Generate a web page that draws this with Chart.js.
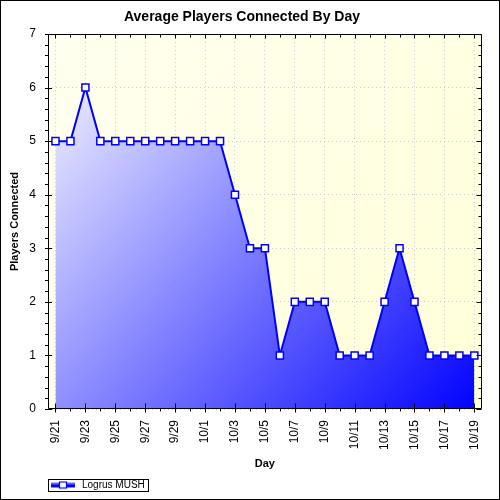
<!DOCTYPE html>
<html><head><meta charset="utf-8">
<script src="https://cdn.jsdelivr.net/npm/chart.js@4/dist/chart.umd.min.js"></script>
<style>html,body{margin:0;padding:0;background:#fff}</style>
</head><body>
<canvas id="c" width="500" height="500"></canvas>
<script>
const chartTitle = 'Average Players Connected By Day';
const xTitle = 'Day';
const yTitle = 'Players Connected';
const seriesName = 'Logrus MUSH';
const days = ['9/21','9/22','9/23','9/24','9/25','9/26','9/27','9/28','9/29','9/30',
  '10/1','10/2','10/3','10/4','10/5','10/6','10/7','10/8','10/9','10/10',
  '10/11','10/12','10/13','10/14','10/15','10/16','10/17','10/18','10/19'];
const players = [5,5,6,5,5,5,5,5,5,5,5,5,4,3,3,1,2,2,2,1,1,1,2,3,2,1,1,1,1];
const yTicks = [0,1,2,3,4,5,6,7];

// legend sample image (line with square marker)
const sample = document.createElement('canvas');
sample.width = 26; sample.height = 9;
(function(){
  const c = sample.getContext('2d');
  const g = c.createLinearGradient(0,2,0,7);
  g.addColorStop(0,'#8080ff'); g.addColorStop(1,'#0000ff');
  c.fillStyle = g; c.fillRect(1,2,24,5);
  c.fillStyle = '#0000ff'; c.fillRect(1,4,24,2);
  c.fillStyle = '#fff'; c.fillRect(9.5,1.5,7,6);
  c.strokeStyle = '#0000ff'; c.lineWidth = 1.2; c.strokeRect(9.5,1.5,7,6);
})();

const frame = {
  id: 'frame',
  afterLayout(chart) {
    const lg = chart.legend;
    if (lg) { lg.left += 44; lg.right += 44; }
  },
  beforeDraw(chart) {
    const {ctx, chartArea: a} = chart;
    ctx.save();
    const g = ctx.createLinearGradient(a.left, a.top, a.right, a.bottom);
    g.addColorStop(0, '#FFFFF0'); g.addColorStop(1, '#FFFFD8');
    ctx.fillStyle = g;
    ctx.fillRect(a.left, a.top, a.right - a.left, a.bottom - a.top);
    ctx.restore();
  },
  afterDatasetsDraw(chart) {
    const {ctx, chartArea: a, scales} = chart;
    const xs = scales.x, ys = scales.y;
    ctx.save();
    ctx.strokeStyle = '#000'; ctx.lineWidth = 1;
    ctx.beginPath();
    const L = Math.round(a.left) + 0.5, R = Math.round(a.right) - 0.5;
    const T = Math.round(a.top) + 0.5, B = Math.round(a.bottom) - 0.5;
    ctx.rect(L, T, R - L, B - T);
    for (let i = 0; i <= 35; i++) {
      const y = Math.round(ys.getPixelForValue(i / 5)) + 0.5;
      const major = i % 5 === 0;
      ctx.moveTo(L - 3.5, y); ctx.lineTo(major ? L + 3.5 : L, y);
      ctx.moveTo(R, y); ctx.lineTo(major ? R - 5 : R - 3, y);
    }
    for (let i = 0; i < days.length; i++) {
      const x = Math.round(xs.getPixelForValue(i)) + 0.5;
      const major = i % 2 === 0;
      ctx.moveTo(x, B + (major ? 4 : 3)); ctx.lineTo(x, major ? B - 5 : B);
      ctx.moveTo(x, T); ctx.lineTo(x, T + (major ? 4 : 3));
    }
    ctx.stroke();
    ctx.restore();
  },
  afterDraw(chart) {
    const {ctx} = chart;
    const lg = chart.legend;
    ctx.save();
    ctx.strokeStyle = '#000'; ctx.lineWidth = 1;
    if (lg && lg.legendItems && lg.legendItems.length) {
      const pad = lg.options.labels.padding;
      const fs = lg.options.labels.font.size;
      ctx.font = fs + 'px "Liberation Sans"';
      const tw = ctx.measureText(lg.legendItems[0].text).width;
      const x0 = lg.left + pad;
      const cy = lg.top + pad + fs / 2;
      const bw = lg.options.labels.pointStyleWidth;
      ctx.strokeRect(Math.round(x0 - 1) + 0.5, Math.round(cy - 6) + 0.5, Math.round(bw + fs / 2 + tw + 4), 12);
    }
    ctx.strokeRect(0.5, 0.5, 499, 499);
    ctx.restore();
  }
};

new Chart(document.getElementById('c'), {
  type: 'line',
  data: {
    labels: days,
    datasets: [{
      label: seriesName,
      data: players,
      borderColor: '#0000FF',
      borderWidth: 2,
      tension: 0,
      fill: 'origin',
      backgroundColor: (ctx) => {
        const a = ctx.chart.chartArea;
        if (!a) return 'rgba(0,0,255,0.5)';
        const g = ctx.chart.ctx.createLinearGradient(a.left, a.top, a.right, a.bottom);
        g.addColorStop(0, '#FFFFFF'); g.addColorStop(1, '#0000FF');
        return g;
      },
      pointStyle: 'rect',
      pointRadius: 5,
      pointHoverRadius: 5,
      pointBackgroundColor: '#FFFFFF',
      pointBorderColor: '#0000FF',
      pointBorderWidth: 1.5
    }]
  },
  options: {
    responsive: false,
    animation: false,
    devicePixelRatio: 1,
    layout: { padding: { left: 0, right: 16, top: 0, bottom: 0 } },
    plugins: {
      title: {
        display: true, text: chartTitle, color: '#000',
        font: { family: 'Liberation Sans', size: 14, weight: 'bold' },
        padding: { top: 9, bottom: 8.2 }
      },
      legend: {
        position: 'bottom', align: 'start',
        labels: {
          usePointStyle: true, pointStyle: sample, pointStyleWidth: 28,
          padding: 5, color: '#000',
          font: { family: 'Liberation Sans', size: 10 }
        }
      },
      tooltip: { enabled: false }
    },
    scales: {
      x: {
        type: 'category', offset: true,
        grid: {
          offset: false, drawTicks: false, lineWidth: 1,
          color: (c) => (c.index % 2 === 0 ? '#cccccc' : 'rgba(0,0,0,0)')
        },
        border: { display: false, dash: [1, 3] },
        ticks: {
          autoSkip: false, minRotation: 90, maxRotation: 90, padding: 11, color: '#000',
          font: { family: 'Liberation Sans', size: 12 },
          callback: (v, i) => (i % 2 === 0 ? days[i] : '')
        },
        title: {
          display: true, text: xTitle, color: '#000',
          font: { family: 'Liberation Sans', size: 11, weight: 'bold' },
          padding: { top: 0, bottom: 4.4 }
        },
        afterFit: (s) => { s.height = 66; }
      },
      y: {
        min: 0, max: 7,
        grid: { drawTicks: false, color: '#cccccc', lineWidth: 1 },
        border: { display: false, dash: [1, 3] },
        ticks: {
          stepSize: 1, padding: 12, color: '#000',
          font: { family: 'Liberation Sans', size: 12 }
        },
        afterBuildTicks: (s) => { s.ticks = yTicks.map(v => ({ value: v })); },
        title: {
          display: true, text: yTitle, color: '#000',
          font: { family: 'Liberation Sans', size: 11, weight: 'bold' },
          padding: { top: 8.4, bottom: 0 }
        },
        afterFit: (s) => { s.width = 48; }
      }
    }
  },
  plugins: [frame]
});
</script>
</body></html>
